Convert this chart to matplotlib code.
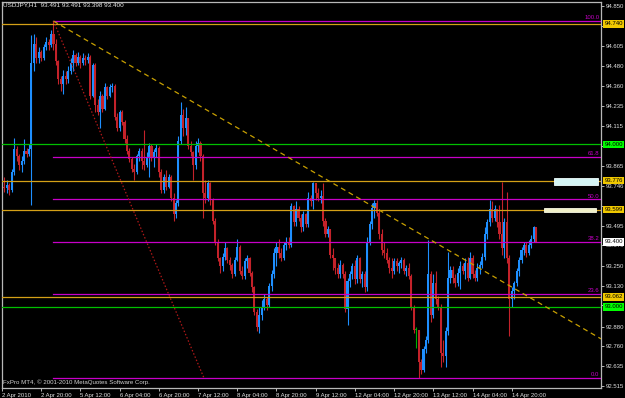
import numpy as np
import matplotlib
matplotlib.use('Agg')
import matplotlib.pyplot as plt
import matplotlib.transforms as mtransforms
from matplotlib.patches import Rectangle

plt.rcParams['font.family'] = ['Liberation Sans', 'DejaVu Sans']

# USDJPY H1, one value per bar (bar 0 = 2 Apr 2010 04:00)
first_open = 93.80
closes = [
    93.74, 93.73, 93.75, 93.72, 93.83, 93.97, 93.93, 93.87, 93.90, 93.96,
    93.94, 93.97, 94.50, 94.62, 94.53, 94.57, 94.53, 94.60, 94.63, 94.61,
    94.68, 94.62, 94.51, 94.40, 94.37, 94.42, 94.40, 94.45, 94.50, 94.55,
    94.50, 94.54, 94.50, 94.53, 94.52, 94.54, 94.30, 94.49, 94.24, 94.20,
    94.30, 94.22, 94.35, 94.30, 94.35, 94.36, 94.17, 94.10, 94.20, 94.14,
    94.03, 93.96, 93.91, 93.85, 93.83, 93.93, 93.96, 93.90, 93.87, 93.92,
    93.99, 93.92, 93.95, 93.98, 93.83, 93.72, 93.80, 93.74, 93.80, 93.67,
    93.57, 93.64, 94.02, 94.18, 94.10, 94.16, 93.99, 93.95, 93.87, 93.99,
    94.01, 93.93, 93.70, 93.67, 93.76, 93.66, 93.53, 93.40, 93.30, 93.25,
    93.31, 93.36, 93.29, 93.26, 93.20, 93.29, 93.37, 93.22, 93.19, 93.28,
    93.30, 93.21, 93.12, 92.97, 92.88, 92.95, 93.00, 93.05, 93.01, 93.13,
    93.20, 93.33, 93.37, 93.33, 93.30, 93.38, 93.40, 93.38, 93.62, 93.52,
    93.60, 93.55, 93.49, 93.57, 93.51, 93.67, 93.65, 93.76, 93.70, 93.67,
    93.68, 93.53, 93.45, 93.48, 93.32, 93.30, 93.24, 93.20, 93.26, 93.20,
    92.99, 93.16, 93.20, 93.25, 93.17, 93.30, 93.17, 93.20, 93.12, 93.40,
    93.51, 93.61, 93.64, 93.58, 93.45, 93.35, 93.33, 93.29, 93.24, 93.22,
    93.28, 93.25, 93.27, 93.29, 93.22, 93.24, 93.19, 93.00, 92.86, 92.86,
    92.66, 92.61, 92.74, 92.80, 93.20, 92.95, 93.15, 93.05, 93.00, 92.72,
    92.70, 92.85, 93.18, 93.23, 93.18, 93.15, 93.21, 93.25, 93.22, 93.27,
    93.18, 93.30, 93.20, 93.18, 93.24, 93.26, 93.31, 93.45, 93.52, 93.60,
    93.55, 93.60, 93.52, 93.45, 93.36, 93.52, 93.30, 93.05, 93.10, 93.15,
    93.22, 93.29, 93.35, 93.38, 93.33, 93.38, 93.42, 93.491, 93.400,
]
highs = [
    93.83, 93.80, 93.78, 93.76, 93.85, 94.04, 93.99, 93.94, 93.93, 94.03,
    93.98, 94.00, 94.67, 94.68, 94.66, 94.60, 94.58, 94.62, 94.66, 94.65,
    94.70, 94.758, 94.65, 94.52, 94.42, 94.46, 94.45, 94.48, 94.53, 94.58,
    94.56, 94.57, 94.55, 94.56, 94.55, 94.56, 94.55, 94.50, 94.50, 94.28,
    94.33, 94.31, 94.38, 94.36, 94.37, 94.38, 94.37, 94.19, 94.21, 94.21,
    94.15, 94.06, 93.98, 93.92, 93.88, 93.94, 93.98, 93.98, 94.09, 93.95,
    94.01, 94.00, 93.97, 94.00, 93.99, 93.85, 93.82, 93.84, 93.82, 93.81,
    93.70, 93.66, 94.05, 94.26, 94.22, 94.23, 94.16, 94.02, 93.96, 94.02,
    94.04, 94.02, 93.94, 93.78, 93.78, 93.77, 93.67, 93.55, 93.42, 93.31,
    93.33, 93.40, 93.37, 93.31, 93.27, 93.31, 93.42, 93.38, 93.25, 93.30,
    93.32, 93.31, 93.22, 93.13, 92.99, 93.00, 93.04, 93.08, 93.06, 93.15,
    93.23, 93.36, 93.40, 93.42, 93.36, 93.40, 93.43, 93.43, 93.64, 93.63,
    93.65, 93.62, 93.57, 93.59, 93.58, 93.71, 93.69, 93.77, 93.76, 93.73,
    93.72, 93.76, 93.55, 93.50, 93.48, 93.36, 93.30, 93.27, 93.29, 93.27,
    93.22, 93.18, 93.22, 93.27, 93.29, 93.32, 93.31, 93.22, 93.22, 93.43,
    93.53, 93.64, 93.66, 93.66, 93.60, 93.48, 93.40, 93.36, 93.31, 93.30,
    93.30, 93.30, 93.28, 93.31, 93.30, 93.26, 93.27, 93.20, 93.01, 92.88,
    92.86, 92.68, 92.76, 92.82, 93.41, 93.22, 93.20, 93.22, 93.07, 93.02,
    92.80, 92.88, 93.34, 93.25, 93.25, 93.20, 93.24, 93.28, 93.27, 93.30,
    93.31, 93.34, 93.32, 93.23, 93.27, 93.28, 93.33, 93.49, 93.54, 93.66,
    93.65, 93.63, 93.60, 93.63, 93.77, 93.55, 93.71, 93.32, 93.12, 93.16,
    93.24, 93.31, 93.37, 93.40, 93.40, 93.41, 93.44, 93.50, 93.491,
]
lows = [
    93.70, 93.71, 93.70, 93.69, 93.71, 93.81, 93.90, 93.84, 93.83, 93.88,
    93.92, 93.93, 93.63, 94.45, 94.50, 94.50, 94.51, 94.52, 94.58, 94.58,
    94.60, 94.58, 94.49, 94.37, 94.33, 94.31, 94.37, 94.38, 94.43, 94.45,
    94.48, 94.49, 94.47, 94.49, 94.49, 94.50, 94.28, 94.29, 94.20, 94.18,
    94.10, 94.20, 94.21, 94.28, 94.29, 94.32, 94.15, 94.08, 94.08, 94.12,
    94.01, 93.94, 93.89, 93.83, 93.78, 93.82, 93.90, 93.85, 93.84, 93.86,
    93.80, 93.90, 93.86, 93.92, 93.80, 93.70, 93.70, 93.72, 93.73, 93.65,
    93.53, 93.55, 93.62, 94.00, 94.05, 94.06, 93.97, 93.93, 93.78, 93.85,
    93.95, 93.90, 93.55, 93.64, 93.65, 93.63, 93.51, 93.38, 93.28, 93.21,
    93.22, 93.29, 93.27, 93.23, 93.18, 93.19, 93.28, 93.20, 93.17, 93.17,
    93.24, 93.19, 93.09, 92.95, 92.85, 92.84, 92.92, 92.98, 92.98, 93.00,
    93.10, 93.18, 93.25, 93.30, 93.28, 93.29, 93.35, 93.36, 93.37, 93.50,
    93.50, 93.53, 93.46, 93.47, 93.49, 93.49, 93.62, 93.60, 93.66, 93.65,
    93.64, 93.50, 93.43, 93.43, 93.30, 93.23, 93.20, 93.18, 93.18, 93.18,
    92.97, 92.89, 93.12, 93.17, 93.14, 93.15, 93.15, 93.12, 93.09, 93.10,
    93.38, 93.48, 93.55, 93.56, 93.42, 93.32, 93.30, 93.27, 93.21, 93.18,
    93.20, 93.22, 93.21, 93.24, 93.20, 93.19, 93.17, 92.98, 92.84, 92.75,
    92.565, 92.59, 92.60, 92.72, 92.78, 92.91, 92.93, 93.02, 92.98, 92.63,
    92.66, 92.63, 92.83, 93.15, 93.15, 93.12, 93.13, 93.11, 93.20, 93.17,
    93.16, 93.17, 93.18, 93.16, 93.16, 93.20, 93.24, 93.29, 93.42, 93.50,
    93.52, 93.53, 93.49, 93.42, 93.32, 93.30, 93.27, 92.82, 93.00, 93.05,
    93.13, 93.19, 93.27, 93.32, 93.31, 93.32, 93.36, 93.40, 93.398,
]

time_labels = ['2 Apr 2010', '2 Apr 20:00', '5 Apr 12:00', '6 Apr 04:00',
               '6 Apr 20:00', '7 Apr 12:00', '8 Apr 04:00', '8 Apr 20:00',
               '9 Apr 12:00', '12 Apr 04:00', '12 Apr 20:00', '13 Apr 12:00',
               '14 Apr 04:00', '14 Apr 20:00']
time_label_bars = [0, 16, 32, 48, 64, 80, 96, 112, 128, 144, 160, 176, 192, 208]

price_ticks = [94.850, 94.725, 94.605, 94.480, 94.360, 94.235, 94.115, 93.990,
               93.865, 93.746, 93.620, 93.495, 93.379, 93.250, 93.130, 93.010,
               92.880, 92.760, 92.635, 92.515]
# scale labels that sit under a price box are not shown
covered_ticks = [94.725, 93.990, 93.620, 93.010]

# Fibonacci retracement between the 2 Apr high and the 12 Apr low
fib_high, fib_low = 94.758, 92.564
fib_high_bar, fib_low_bar = 21, 82.4
fib_levels = [0.0, 23.6, 38.2, 50.0, 61.8, 100.0]

# descending trendline anchors
trend_bars = [21, 170]
trend_prices = [94.758, 93.455]

orange_levels = [94.740, 93.776, 93.599, 93.062]
green_levels = [94.000, 93.000]

box_prices = [94.740, 94.000, 93.776, 93.599, 93.400, 93.062, 93.000]
box_texts = ['94.740', '94.000', '93.776', '93.599', '93.400', '93.062', '93.000']
box_colors = ['#f0c800', '#00ff00', '#f0c800', '#f0c800', '#ffffff', '#f0c800', '#00ff00']

BULL = '#1e8fff'
BEAR = '#c4222a'
DOJI = '#00b000'
ORANGE = '#d4a017'
MAGENTA = '#c800c8'
GREEN = '#00c000'
GREY = '#b8b8b8'

fig = plt.figure(figsize=(6.25, 3.98), dpi=100, facecolor='black')
ax = fig.add_axes([2 / 625, 10.5 / 398, 599 / 625, 385.8 / 398])
ax.set_facecolor('black')

closes = np.array(closes)
highs = np.array(highs)
lows = np.array(lows)
opens = np.r_[first_open, closes[:-1]]
bars = np.arange(len(closes))
highs = np.maximum(highs, np.maximum(opens, closes))
lows = np.minimum(lows, np.minimum(opens, closes))

colors = np.where(closes > opens, BULL, np.where(closes < opens, BEAR, DOJI))
ax.vlines(bars, lows, highs, colors=colors, lw=0.8, zorder=2)
body = np.maximum(np.abs(closes - opens), 0.005)
ax.bar(bars, body, bottom=np.minimum(opens, closes), width=0.85,
       color=colors, linewidth=0, zorder=2)

x_left, x_right = 0.53, 244.43
ax.set_xlim(x_left, x_right)
ax.set_ylim(92.505, 94.877)

# horizontal levels
for p in orange_levels:
    ax.axhline(p, color=ORANGE, lw=0.9, zorder=3)
for p in green_levels:
    ax.axhline(p, color=GREEN, lw=0.9, zorder=3)

# fibonacci
btrans = mtransforms.blended_transform_factory(ax.transAxes, ax.transData)
fib_prices = [fib_low + (fib_high - fib_low) * lv / 100 for lv in fib_levels]
for lv, p in zip(fib_levels, fib_prices):
    ax.plot([fib_high_bar, x_right], [p, p], color=MAGENTA, lw=0.9, zorder=3)
    ax.text(0.997, p + 0.006, '%.1f' % lv, transform=btrans,
            ha='right', va='bottom', color=MAGENTA, fontsize=4.3, zorder=4)
ax.plot([fib_high_bar, fib_low_bar], [fib_high, fib_low], color='#b01818',
        lw=0.9, ls=(0, (1.2, 1.6)), zorder=3)

# trendline as a ray
slope = (trend_prices[1] - trend_prices[0]) / (trend_bars[1] - trend_bars[0])
ax.plot([trend_bars[0], x_right],
        [trend_prices[0], trend_prices[0] + slope * (x_right - trend_bars[0])],
        color='#c8a000', lw=0.9, ls=(0, (4, 3)), zorder=3)

# text label objects near the right edge
ax.add_patch(Rectangle((225.3, 93.750), 17.9, 0.043, facecolor='#d4f4f4',
                       edgecolor='#f0ffff', lw=0.6, zorder=4))
ax.add_patch(Rectangle((221.2, 93.584), 21.2, 0.025, facecolor='#f0f0c8',
                       edgecolor='#fafae6', lw=0.6, zorder=4))

# axes styling
for s in ax.spines.values():
    s.set_color(GREY)
    s.set_linewidth(0.9)
ax.yaxis.tick_right()
ax.set_yticks(price_ticks)
ax.set_yticklabels(['' if t in covered_ticks else '%.3f' % t for t in price_ticks])
ax.set_xticks(time_label_bars)
ax.set_xticklabels(time_labels)
for lbl in ax.get_xticklabels():
    lbl.set_horizontalalignment('left')
ax.tick_params(axis='both', colors=GREY, labelcolor='#e0e0e0', labelsize=4.3,
               length=2.5, width=0.7, pad=1.2)

# price boxes on the scale
for p, t, c in zip(box_prices, box_texts, box_colors):
    ax.text(1.006, p, t, transform=btrans, ha='left', va='center', fontsize=4.3,
            color='black', clip_on=False, zorder=6,
            bbox=dict(boxstyle='square,pad=0.2', facecolor=c, edgecolor='none'))

ax.text(0.002, 0.991, 'USDJPY,H1  93.491 93.491 93.398 93.400', transform=ax.transAxes,
        ha='left', va='center', color='#e8e8e8', fontsize=4.6, zorder=6)
ax.text(0.002, 0.014, 'FxPro MT4, \u00a9 2001-2010 MetaQuotes Software Corp.', transform=ax.transAxes,
        ha='left', va='center', color='#d0d0d0', fontsize=4.4, zorder=6)

fig.savefig('out.png', dpi=100, facecolor='black')
